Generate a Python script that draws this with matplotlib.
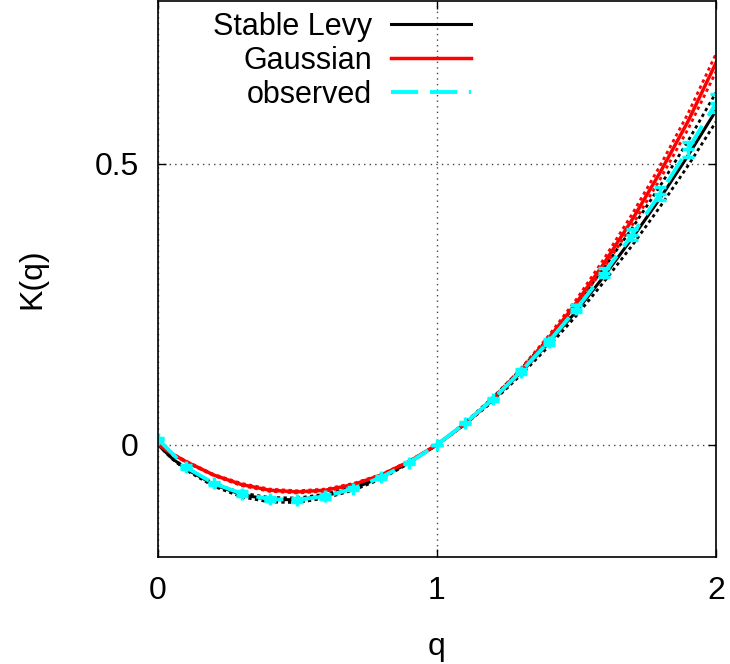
import numpy as np
import matplotlib
matplotlib.use("Agg")
import matplotlib.pyplot as plt

plt.rcParams['font.family'] = ['Liberation Sans', 'DejaVu Sans']

# q grid for the model curves
q_model = [0.0, 0.05, 0.1, 0.2, 0.3, 0.4, 0.5, 0.6, 0.7, 0.8, 0.9, 1.0,
           1.1, 1.2, 1.3, 1.4, 1.5, 1.6, 1.7, 1.8, 1.9, 2.0]

# Stable Levy fit and its bounds
levy = [0.0, -0.024, -0.043, -0.071, -0.089, -0.0975, -0.098, -0.091, -0.078,
        -0.058, -0.032, 0.0, 0.037, 0.080, 0.128, 0.181, 0.238, 0.301, 0.368,
        0.439, 0.515, 0.595]
levy_hi = [0.0, -0.025, -0.045, -0.074, -0.093, -0.102, -0.103, -0.095, -0.081,
           -0.061, -0.033, 0.0, 0.039, 0.084, 0.134, 0.190, 0.250, 0.316, 0.386,
           0.461, 0.541, 0.627]
levy_lo = [0.0, -0.023, -0.042, -0.069, -0.086, -0.094, -0.095, -0.088, -0.075,
           -0.056, -0.031, 0.0, 0.036, 0.077, 0.124, 0.175, 0.230, 0.291, 0.355,
           0.424, 0.497, 0.575]

# Gaussian fit and its bounds
gauss = [0.0, -0.016, -0.030, -0.054, -0.071, -0.081, -0.084, -0.081, -0.071,
         -0.054, -0.030, 0.0, 0.037, 0.081, 0.131, 0.189, 0.253, 0.324, 0.401,
         0.485, 0.576, 0.680]
gauss_hi = [0.0, -0.0165, -0.031, -0.055, -0.073, -0.083, -0.086, -0.083, -0.073,
            -0.055, -0.031, 0.0, 0.038, 0.083, 0.135, 0.194, 0.259, 0.332, 0.411,
            0.497, 0.590, 0.696]
gauss_lo = [0.0, -0.0155, -0.029, -0.053, -0.069, -0.079, -0.082, -0.079, -0.069,
            -0.053, -0.029, 0.0, 0.036, 0.079, 0.128, 0.184, 0.247, 0.316, 0.391,
            0.473, 0.562, 0.664]

# observed moments with error bars
q_obs = [0.0, 0.1, 0.2, 0.3, 0.4, 0.5, 0.6, 0.7, 0.8, 0.9, 1.0,
         1.1, 1.2, 1.3, 1.4, 1.5, 1.6, 1.7, 1.8, 1.9, 2.0]
k_obs = [0.010, -0.040, -0.069, -0.087, -0.097, -0.098, -0.092, -0.078, -0.058,
         -0.032, 0.0, 0.038, 0.081, 0.130, 0.183, 0.242, 0.306, 0.374, 0.447,
         0.526, 0.608]
k_err = [0.002, 0.003, 0.003, 0.004, 0.004, 0.004, 0.004, 0.003, 0.003, 0.002,
         0.0, 0.002, 0.003, 0.004, 0.005, 0.006, 0.008, 0.010, 0.012, 0.013, 0.016]

fig = plt.figure(figsize=(7.3, 6.64), dpi=100)
ax = fig.add_axes([0.2164, 0.1611, 0.7644, 0.8373])

dot = (0, (1.2, 1.2))
ax.plot(q_model, levy_hi, color='black', lw=2, ls=dot)
ax.plot(q_model, levy_lo, color='black', lw=2, ls=dot)
ax.plot(q_model, gauss_hi, color='red', lw=2, ls=dot)
ax.plot(q_model, gauss_lo, color='red', lw=2, ls=dot)
ax.plot(q_model, levy, color='black', lw=2.2, label='Stable Levy')
ax.plot(q_model, gauss, color='red', lw=2.5, label='Gaussian')
cyan = '#00ffff'
ax.errorbar(q_obs, k_obs, yerr=k_err, color=cyan, ls='none',
            marker='+', ms=8, mew=2.5, capsize=4, elinewidth=2, capthick=2)
ax.plot(q_obs, k_obs, color=cyan, lw=2.8, ls=(0, (7, 3)), label='observed')

ax.set_xlim(0, 2)
ax.set_ylim(-0.2, 0.79)
ax.set_xticks([0, 1, 2])
ax.set_xticklabels(['0', '1', '2'])
ax.set_yticks([0, 0.5])
ax.set_yticklabels(['0', '0.5'])
ax.tick_params(direction='in', length=6, width=1, top=True, right=True,
               labelsize=23, pad=14)
ax.grid(True, color='#444444', ls=(0, (1, 3)), lw=1)
for s in ax.spines.values():
    s.set_linewidth(1.2)

ax.set_xlabel('q', fontsize=23)
ax.set_ylabel('K(q)', fontsize=23)
ax.yaxis.set_label_coords(-0.199, 0.5)
ax.xaxis.set_label_coords(0.5, -0.135)

# markerfirst=False right-aligns the labels against the line samples
ax.legend(loc='upper right', bbox_to_anchor=(0.561, 0.981), frameon=False,
          markerfirst=False, fontsize=22, handlelength=2.62,
          handletextpad=0.62, labelspacing=0.13, borderaxespad=0.0,
          borderpad=0.0)

fig.savefig('out.png', dpi=100)
